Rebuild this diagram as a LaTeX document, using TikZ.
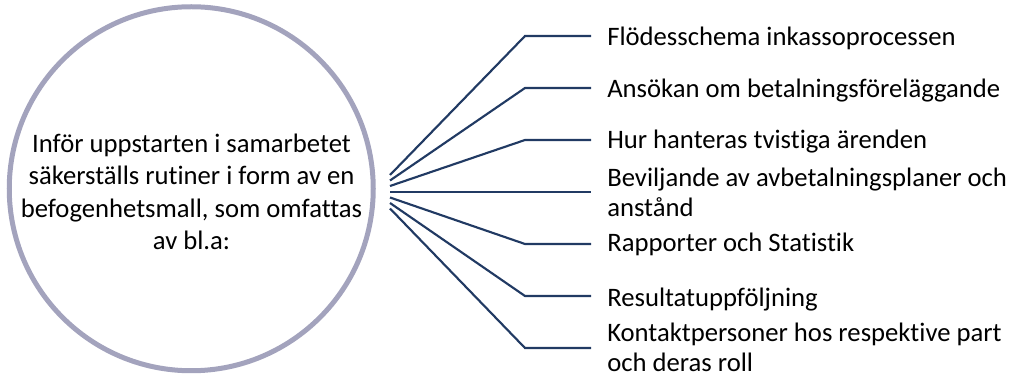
\documentclass[tikz,border=0pt]{standalone}
\usepackage{fontspec}
\setmainfont{Carlito}[Ligatures=NoCommon]
\definecolor{ringc}{HTML}{A3A3BD}
\definecolor{linec}{HTML}{213A63}
\begin{document}
\begin{tikzpicture}[x=0.75pt,y=-0.75pt,
  ring/.style={circle,draw=ringc,line width=3.75pt,minimum size=273pt,inner sep=0pt},
  conn/.style={draw=linec,line width=1.6pt},
  lbl/.style={anchor=base west,inner sep=0pt,align=left,font=\fontsize{20}{22.5}\selectfont},
  ctext/.style={align=center,inner sep=0pt,font=\fontsize{20}{24.2}\selectfont}]
\useasboundingbox (0,0) rectangle (1011,377);
\node[ring] (c) at (191.25,188.75) {};
\node[ctext,anchor=base] (t) at (191.5,249.3) {Inför uppstarten i samarbetet\\säkerställs rutiner i form av en\\befogenhetsmall, som omfattas\\av bl.a:};
% start, bend and end points
\foreach \i/\sy/\by in {1/175/36,2/180.5/88,3/186/140,4/192/192,5/197.5/244,6/203/296,7/208.5/348}{
  \coordinate (s\i) at (390,\sy);
  \coordinate (b\i) at (525,\by);
  \coordinate (e\i) at (591,\by);
}
\node[lbl] (l1) at (607,46) {Flödesschema inkassoprocessen};
\node[lbl] (l2) at (607,98) {Ansökan om betalningsföreläggande};
\node[lbl] (l3) at (607,148.5) {Hur hanteras tvistiga ärenden};
\node[lbl] (l4) at (607,216.7) {Beviljande av avbetalningsplaner och\\anstånd};
\node[lbl] (l5) at (607,252) {Rapporter och Statistik};
\node[lbl] (l6) at (607,306.5) {Resultatuppföljning};
\node[lbl] (l7) at (607,371.7) {Kontaktpersoner hos respektive part\\och deras roll};
\foreach \i in {1,...,7}{
  \draw[conn] (s\i) -- (b\i) -- (e\i);
}
\end{tikzpicture}
\end{document}
